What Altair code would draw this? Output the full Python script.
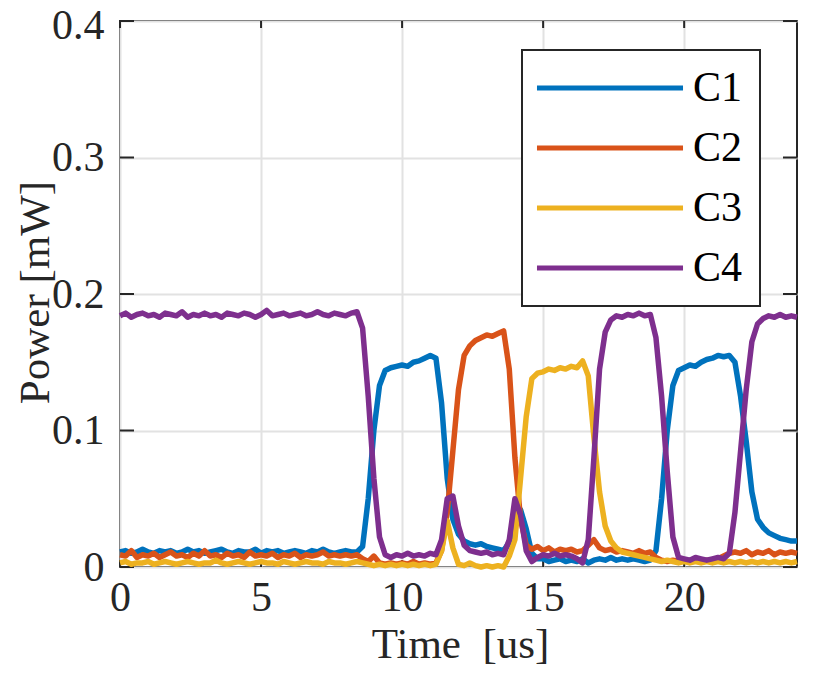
import altair as alt
import pandas as pd

# sample times (us), 0.2 us step
t = [round(i * 0.2, 1) for i in range(121)]

names = ["C1", "C2", "C3", "C4"]
colors = ["#0072BD", "#D95319", "#EDB120", "#7E2F8E"]

c1 = [
    0.011, 0.012, 0.010, 0.011, 0.013, 0.011, 0.010, 0.012, 0.011, 0.012,
    0.010, 0.011, 0.013, 0.011, 0.012, 0.010, 0.011, 0.012, 0.013, 0.011,
    0.010, 0.012, 0.011, 0.011, 0.013, 0.010, 0.012, 0.011, 0.012, 0.010,
    0.011, 0.012, 0.011, 0.010, 0.012, 0.011, 0.013, 0.011, 0.010, 0.011,
    0.012, 0.011, 0.011, 0.015, 0.050, 0.100, 0.133, 0.144, 0.146, 0.147,
    0.148, 0.147, 0.150, 0.151, 0.153, 0.155, 0.153, 0.120, 0.065, 0.035,
    0.024, 0.019, 0.017, 0.016, 0.017, 0.015, 0.014, 0.013, 0.012, 0.018,
    0.035, 0.042, 0.028, 0.010, 0.006, 0.006, 0.004, 0.005, 0.006, 0.004,
    0.005, 0.004, 0.006, 0.003, 0.005, 0.006, 0.005, 0.007, 0.005, 0.006,
    0.005, 0.006, 0.005, 0.004, 0.005, 0.012, 0.050, 0.100, 0.133, 0.144,
    0.146, 0.148, 0.147, 0.150, 0.152, 0.153, 0.155, 0.154, 0.155, 0.150,
    0.125, 0.092, 0.055, 0.035, 0.029, 0.025, 0.023, 0.021, 0.020, 0.019,
    0.019,
]

c2 = [
    0.009, 0.008, 0.012, 0.007, 0.009, 0.008, 0.010, 0.007, 0.009, 0.011,
    0.008, 0.009, 0.007, 0.010, 0.008, 0.012, 0.008, 0.009, 0.007, 0.010,
    0.008, 0.009, 0.007, 0.011, 0.008, 0.009, 0.008, 0.010, 0.007, 0.009,
    0.008, 0.010, 0.007, 0.009, 0.008, 0.009, 0.011, 0.008, 0.009, 0.008,
    0.009, 0.008, 0.009, 0.006, 0.004, 0.008, 0.003, 0.002, 0.003, 0.002,
    0.003, 0.002, 0.004, 0.002, 0.003, 0.002, 0.003, 0.012, 0.040, 0.085,
    0.130, 0.155, 0.162, 0.166, 0.168, 0.170, 0.169, 0.171, 0.173, 0.145,
    0.080, 0.035, 0.016, 0.013, 0.015, 0.012, 0.014, 0.011, 0.013, 0.012,
    0.013, 0.011, 0.012, 0.016, 0.020, 0.014, 0.012, 0.013, 0.011, 0.012,
    0.011, 0.010, 0.012, 0.010, 0.011, 0.007, 0.005, 0.004, 0.005, 0.004,
    0.005, 0.004, 0.005, 0.004, 0.005, 0.004, 0.006, 0.008, 0.010, 0.011,
    0.010, 0.012, 0.009, 0.011, 0.010, 0.012, 0.009, 0.011, 0.010, 0.011,
    0.010,
]

c3 = [
    0.003, 0.004, 0.002, 0.003, 0.003, 0.004, 0.002, 0.003, 0.004, 0.003,
    0.002, 0.003, 0.004, 0.003, 0.002, 0.003, 0.003, 0.005, 0.003, 0.002,
    0.003, 0.004, 0.003, 0.002, 0.003, 0.004, 0.003, 0.003, 0.002, 0.004,
    0.003, 0.002, 0.003, 0.004, 0.003, 0.003, 0.002, 0.004, 0.003, 0.003,
    0.002, 0.003, 0.004, 0.003, 0.002, 0.001, 0.002, 0.001, 0.002, 0.001,
    0.002, 0.001, 0.002, 0.001, 0.002, 0.001, 0.002, 0.012, 0.034, 0.014,
    0.002, 0.001, 0.003, 0.001, 0.000, 0.001, 0.000, 0.001, 0.000, 0.008,
    0.020, 0.065, 0.110, 0.138, 0.142, 0.143, 0.145, 0.144, 0.146, 0.145,
    0.147, 0.146, 0.151, 0.140, 0.095, 0.055, 0.030, 0.019, 0.014, 0.011,
    0.010, 0.009, 0.008, 0.007, 0.006, 0.005, 0.004, 0.005, 0.004, 0.003,
    0.004, 0.003, 0.004, 0.003, 0.004, 0.003, 0.004, 0.003, 0.004, 0.003,
    0.004, 0.003, 0.004, 0.003, 0.004, 0.003, 0.004, 0.003, 0.004, 0.003,
    0.004,
]

c4 = [
    0.184, 0.186, 0.183, 0.185, 0.186, 0.184, 0.185, 0.183, 0.186, 0.185,
    0.184, 0.187, 0.183, 0.185, 0.184, 0.186, 0.184, 0.185, 0.183, 0.186,
    0.185, 0.184, 0.186, 0.185, 0.183, 0.185, 0.188, 0.184, 0.185, 0.186,
    0.184, 0.185, 0.186, 0.184, 0.185, 0.187, 0.185, 0.184, 0.186, 0.185,
    0.184, 0.186, 0.187, 0.175, 0.125, 0.065, 0.022, 0.009, 0.007, 0.009,
    0.008, 0.010, 0.008, 0.009, 0.008, 0.010, 0.009, 0.020, 0.050, 0.052,
    0.030, 0.016, 0.012, 0.011, 0.010, 0.011, 0.009, 0.010, 0.009, 0.020,
    0.050, 0.038, 0.012, 0.004, 0.007, 0.009, 0.008, 0.010, 0.008, 0.009,
    0.008, 0.006, 0.003, 0.020, 0.080, 0.145, 0.172, 0.181, 0.184, 0.183,
    0.185, 0.184, 0.186, 0.184, 0.185, 0.168, 0.125, 0.070, 0.022, 0.007,
    0.006, 0.005, 0.007, 0.006, 0.005, 0.006, 0.007, 0.006, 0.010, 0.040,
    0.085, 0.130, 0.165, 0.178, 0.182, 0.184, 0.183, 0.185, 0.183, 0.184,
    0.183,
]

x_ticks = [0, 5, 10, 15, 20]
y_ticks = [0, 0.1, 0.2, 0.3, 0.4]

rows = []
for name, vals in zip(names, [c1, c2, c3, c4]):
    for ti, v in zip(t, vals):
        rows.append({"t": ti, "p": v, "ch": name})
df = pd.DataFrame(rows)

W, H = 677, 546
FONT = "Liberation Serif, Times New Roman, Times, DejaVu Serif, serif"
INK = "#262626"

xs = alt.Scale(domain=[0, 24], nice=False, zero=False)
ys = alt.Scale(domain=[0, 0.4], nice=False)

x_axis = alt.Axis(values=x_ticks, title="Time\u00a0 [us]", grid=True, ticks=False, tickSize=0,
                  domain=False, labelPadding=43, labelBaseline="alphabetic", labelFlush=False,
                  titleX=340, titleY=90, titleBaseline="alphabetic", titleAlign="center")
y_axis = alt.Axis(values=y_ticks, title="Power [mW]", grid=True, ticks=False, tickSize=0,
                  domain=False, format=".1~f", labelPadding=16, labelAlign="right",
                  labelBaseline="middle", labelFlush=False,
                  labelOffset={"condition": {"test": "datum.value > 0.35", "value": 4}, "value": 0},
                  titleX=-72, titleY=271, titleAngle=270,
                  titleBaseline="alphabetic", titleAlign="center")

color = alt.Color(
    "ch:N",
    scale=alt.Scale(domain=names, range=colors),
    legend=alt.Legend(
        title=None, orient="none", legendX=402, legendY=29, direction="vertical",
        symbolType="M-5,0H5", symbolSize=853, symbolStrokeWidth=5,
        symbolOffset=50, labelOffset=62, rowPadding=18, padding=17,
        labelFont=FONT, labelFontSize=42, labelColor="#000000",
        strokeColor=INK, fillColor="#ffffff",
        labelExpr="datum.label + '\u00a0'",
    ),
)

base = alt.Chart(df)
lines = [
    base.transform_filter(alt.datum.ch == n)
    .mark_line(strokeWidth=5.5, strokeJoin="round")
    .encode(x=alt.X("t:Q", scale=xs, axis=x_axis),
            y=alt.Y("p:Q", scale=ys, axis=y_axis),
            color=color)
    for n in names
]

xt = alt.Chart(pd.DataFrame({"v": x_ticks}))
yt = alt.Chart(pd.DataFrame({"v": y_ticks}))
tick_style = dict(color=INK, strokeWidth=2)
ticks = [
    xt.mark_rule(**tick_style).encode(x=alt.X("v:Q", scale=xs, axis=x_axis), y=alt.value(H), y2=alt.value(H - 7)),
    xt.mark_rule(**tick_style).encode(x=alt.X("v:Q", scale=xs, axis=x_axis), y=alt.value(0), y2=alt.value(7)),
    yt.mark_rule(**tick_style).encode(y=alt.Y("v:Q", scale=ys, axis=y_axis), x=alt.value(0), x2=alt.value(14)),
    yt.mark_rule(**tick_style).encode(y=alt.Y("v:Q", scale=ys, axis=y_axis), x=alt.value(W), x2=alt.value(W - 14)),
]

chart = (
    alt.layer(*ticks, *lines)
    .properties(width=W, height=H, autosize=alt.AutoSizeParams(type="none"),
                padding={"left": 112, "top": 13, "right": 20, "bottom": 99})
    .configure_view(stroke=INK, strokeWidth=2)
    .configure_axis(labelFont=FONT, labelFontSize=42, labelColor=INK,
                    titleFont=FONT, titleFontSize=43, titleColor=INK, titleFontWeight="normal",
                    gridColor="#e2e2e2", gridWidth=2, gridOpacity=1)
    .configure_legend(strokeWidth=2)
)

chart.save("out.html", embed_options={"renderer": "svg", "actions": False})
